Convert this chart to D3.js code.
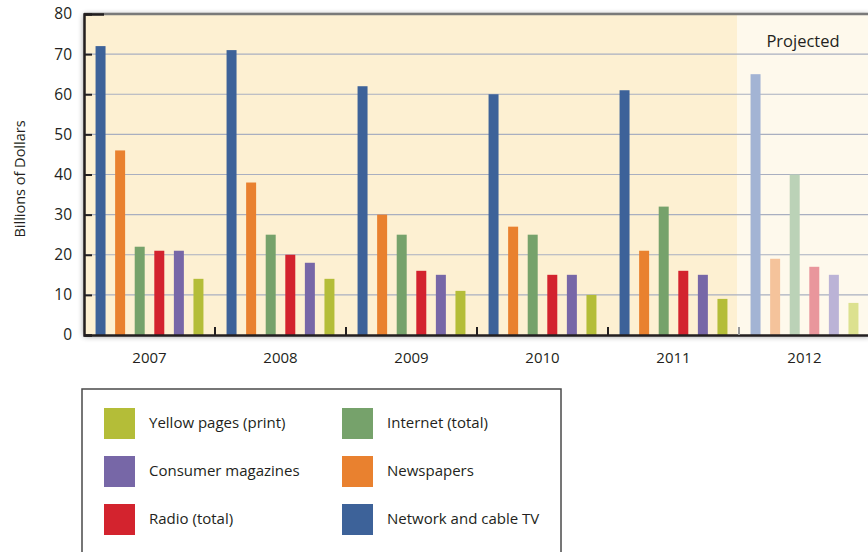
<!DOCTYPE html>
<html>
<head>
<meta charset="utf-8">
<script src="https://cdn.jsdelivr.net/npm/d3@7"></script>
<style>
  body { margin: 0; background: #fff; }
  svg { display: block; font-family: "Open Sans", sans-serif; }
</style>
</head>
<body>
<svg id="chart" width="868" height="552"></svg>
<script>
const years = ["2007", "2008", "2009", "2010", "2011", "2012"];
const projectedYears = ["2012"];
const series = ["Network and cable TV", "Newspapers", "Internet (total)", "Radio (total)", "Consumer magazines", "Yellow pages (print)"];
const tvValues = [72, 71, 62, 60, 61, 65];
const newspaperValues = [46, 38, 30, 27, 21, 19];
const internetValues = [22, 25, 25, 25, 32, 40];
const radioValues = [21, 20, 16, 15, 16, 17];
const magazineValues = [21, 18, 15, 15, 15, 15];
const yellowValues = [14, 14, 11, 10, 9, 8];
const yTicks = [0, 10, 20, 30, 40, 50, 60, 70, 80];
const legendOrder = ["Yellow pages (print)", "Internet (total)", "Consumer magazines", "Newspapers", "Radio (total)", "Network and cable TV"];

const valuesBySeries = [tvValues, newspaperValues, internetValues, radioValues, magazineValues, yellowValues];
const colors = ["#3d6299", "#e9812f", "#76a26b", "#d3232e", "#7767a7", "#b4bd38"];
const lightColors = ["#a3b4d4", "#f5c39b", "#bbd2b7", "#e9969c", "#bbb3d6", "#dce18f"];

const svg = d3.select("#chart");
const margin = { left: 84, top: 14, bottom: 335 };
const groupW = 131;
const plotRight = margin.left + groupW * years.length;

const x0 = d3.scaleBand().domain(years).range([margin.left, plotRight]).padding(0);
const x1 = d3.scaleBand().domain(series).range([0, groupW]).paddingInner(0.49).paddingOuter(0.59);
const y = d3.scaleLinear().domain([0, 80]).range([margin.bottom, margin.top]);

const defs = svg.append("defs");
const shadow = defs.append("filter").attr("id", "shadow").attr("x", "-5%").attr("y", "-10%").attr("width", "110%").attr("height", "120%");
shadow.append("feGaussianBlur").attr("in", "SourceAlpha").attr("stdDeviation", 3);
shadow.append("feOffset").attr("dx", 0).attr("dy", 1).attr("result", "b");
shadow.append("feComponentTransfer").append("feFuncA").attr("type", "linear").attr("slope", 0.45);
const merge = shadow.append("feMerge");
merge.append("feMergeNode");
merge.append("feMergeNode").attr("in", "SourceGraphic");

// plot background
svg.append("rect")
  .attr("x", margin.left).attr("y", margin.top)
  .attr("width", plotRight - margin.left).attr("height", margin.bottom - margin.top)
  .attr("fill", "#fdf0d2")
  .attr("filter", "url(#shadow)");

const projStart = x0(projectedYears[0]) - 2;
svg.append("rect")
  .attr("x", projStart).attr("y", margin.top)
  .attr("width", plotRight - projStart).attr("height", margin.bottom - margin.top)
  .attr("fill", "#fef9ec");

// gridlines
svg.append("g").selectAll("line").data(yTicks.filter(d => d > 0 && d < 80)).join("line")
  .attr("x1", margin.left).attr("x2", plotRight)
  .attr("y1", d => y(d)).attr("y2", d => y(d))
  .attr("stroke", "#a9afc0").attr("stroke-width", 1.1);

// bars
years.forEach((yr, gi) => {
  const proj = projectedYears.includes(yr);
  svg.append("g").attr("transform", `translate(${x0(yr)},0)`)
    .selectAll("rect").data(series).join("rect")
    .attr("x", s => x1(s))
    .attr("width", x1.bandwidth())
    .attr("y", (s, i) => y(valuesBySeries[i][gi]))
    .attr("height", (s, i) => y(0) - y(valuesBySeries[i][gi]))
    .attr("fill", (s, i) => proj ? lightColors[i] : colors[i]);
});

// top frame line
svg.append("line")
  .attr("x1", margin.left).attr("x2", plotRight)
  .attr("y1", margin.top).attr("y2", margin.top)
  .attr("stroke", "#7a7a7a").attr("stroke-width", 2.5);

// y axis with inner ticks
const yAxis = svg.append("g").attr("transform", `translate(${margin.left},0)`)
  .call(d3.axisLeft(y).tickValues(yTicks).tickSize(-8).tickPadding(12));
yAxis.select(".domain").attr("stroke", "#231f20").attr("stroke-width", 2.5);
yAxis.selectAll(".tick line").attr("stroke", "#231f20").attr("stroke-width", 2);
yAxis.selectAll(".tick text").attr("font-size", 15.5).attr("fill", "#231f20")
  .attr("font-family", "Open Sans, sans-serif");
yAxis.select(".tick:last-of-type line").attr("x2", 20).attr("stroke-width", 2.5);

// x axis
const xAxis = svg.append("g").attr("transform", `translate(0,${margin.bottom})`)
  .call(d3.axisBottom(x0).tickSize(0).tickPadding(17));
xAxis.select(".domain").attr("stroke", "#231f20").attr("stroke-width", 2.5);
xAxis.selectAll(".tick text").attr("font-size", 15).attr("fill", "#231f20")
  .attr("font-family", "Open Sans, sans-serif");

// group separator ticks
svg.append("g").selectAll("line").data(years.slice(1)).join("line")
  .attr("x1", d => x0(d)).attr("x2", d => x0(d))
  .attr("y1", margin.bottom).attr("y2", margin.bottom - 8)
  .attr("stroke", d => projectedYears.includes(d) ? "#999" : "#231f20").attr("stroke-width", 2);

// y axis title
svg.append("text")
  .attr("transform", `translate(25,179) rotate(-90)`)
  .attr("text-anchor", "middle")
  .attr("font-size", 14.5).attr("fill", "#231f20")
  .text("Billions of Dollars");

// projected label
svg.append("text")
  .attr("x", 803).attr("y", 47)
  .attr("text-anchor", "middle")
  .attr("font-size", 16.5).attr("fill", "#231f20")
  .text("Projected");

// legend
const legend = svg.append("g");
legend.append("rect")
  .attr("x", 82).attr("y", 389).attr("width", 479).attr("height", 200)
  .attr("fill", "#fff").attr("stroke", "#4a4a4a").attr("stroke-width", 1.5);

legendOrder.forEach((name, i) => {
  const col = i % 2, row = Math.floor(i / 2);
  const lx = col === 0 ? 104 : 342;
  const ly = 408 + row * 48;
  const si = series.indexOf(name);
  legend.append("rect")
    .attr("x", lx).attr("y", ly).attr("width", 31).attr("height", 31)
    .attr("fill", colors[si]);
  legend.append("text")
    .attr("x", lx + 45).attr("y", ly + 16)
    .attr("dominant-baseline", "middle")
    .attr("font-size", 15).attr("fill", "#231f20")
    .text(name);
});
</script>
</body>
</html>
